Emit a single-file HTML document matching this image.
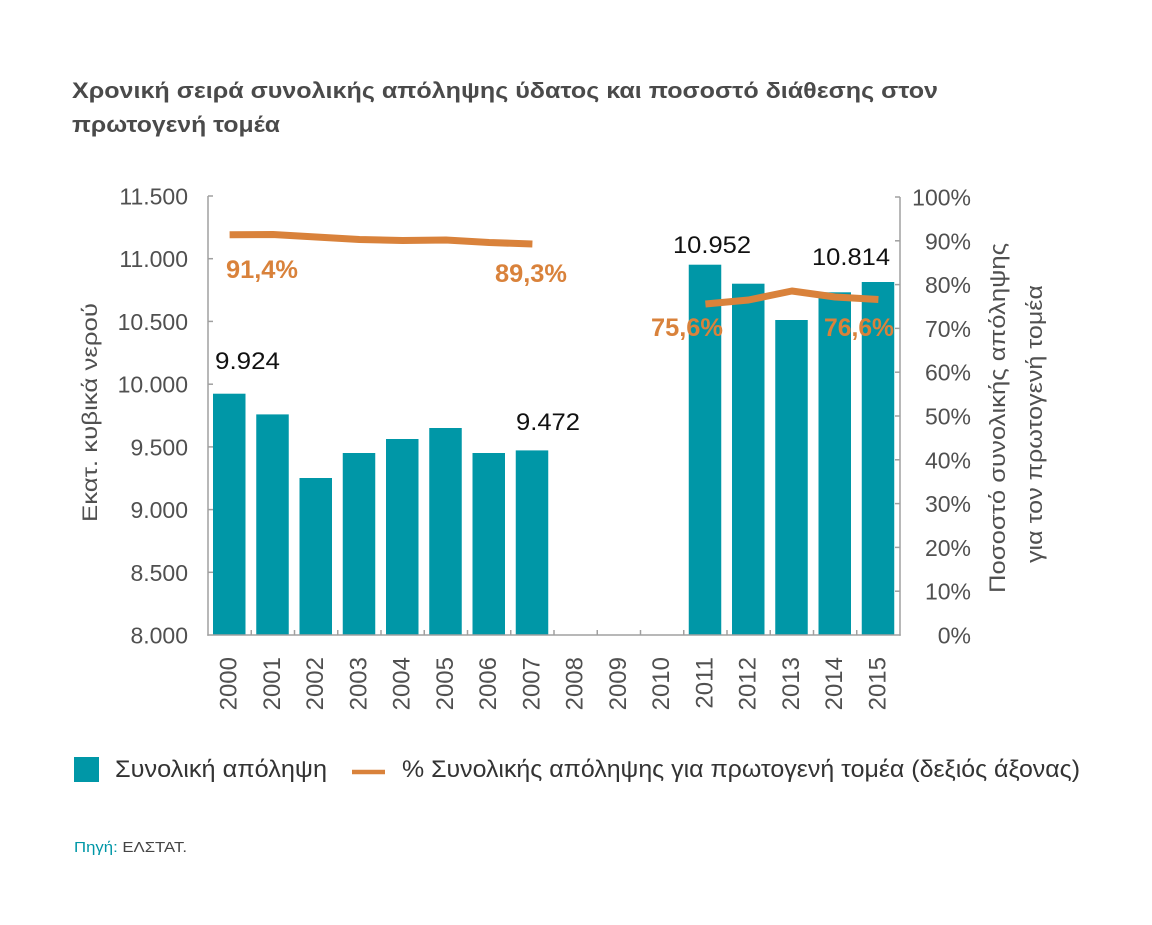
<!DOCTYPE html>
<html>
<head>
<meta charset="utf-8">
<style>
  html, body { margin:0; padding:0; background:#ffffff; }
  svg { display:block; }
  text { font-family: "Liberation Sans", "DejaVu Sans", sans-serif; }
</style>
</head>
<body>
<svg width="1152" height="925" viewBox="0 0 1152 925" xmlns="http://www.w3.org/2000/svg">
  <rect x="0" y="0" width="1152" height="925" fill="#ffffff"/>

  <!-- Title -->
  <text x="72" y="98" font-size="22" font-weight="bold" fill="#4a4a4a" textLength="866" lengthAdjust="spacingAndGlyphs">Χρονική σειρά συνολικής απόληψης ύδατος και ποσοστό διάθεσης στον</text>
  <text x="72" y="132" font-size="22" font-weight="bold" fill="#4a4a4a" textLength="208" lengthAdjust="spacingAndGlyphs">πρωτογενή τομέα</text>

  <!-- Bars -->
  <g fill="#0097a7">
    <rect x="213" y="393.7" width="32.5" height="241.3"/>
    <rect x="256.25" y="414.4" width="32.5" height="220.6"/>
    <rect x="299.5" y="478" width="32.5" height="157"/>
    <rect x="342.75" y="453" width="32.5" height="182"/>
    <rect x="386" y="439" width="32.5" height="196"/>
    <rect x="429.25" y="428" width="32.5" height="207"/>
    <rect x="472.5" y="453" width="32.5" height="182"/>
    <rect x="515.75" y="450.4" width="32.5" height="184.6"/>
    <rect x="688.75" y="264.7" width="32.5" height="370.3"/>
    <rect x="732" y="283.7" width="32.5" height="351.3"/>
    <rect x="775.25" y="320" width="32.5" height="315"/>
    <rect x="818.5" y="292.3" width="32.5" height="342.7"/>
    <rect x="861.75" y="282" width="32.5" height="353"/>
  </g>

  <!-- Axes -->
  <g stroke="#a0a0a0" stroke-width="1.5" fill="none">
    <line x1="208" y1="196" x2="208" y2="635.7"/>
    <line x1="900" y1="197" x2="900" y2="635.7"/>
    <line x1="207.3" y1="635" x2="900.7" y2="635"/>
    <!-- left ticks -->
    <line x1="208" y1="196" x2="213" y2="196"/>
    <line x1="208" y1="258.7" x2="213" y2="258.7"/>
    <line x1="208" y1="321.4" x2="213" y2="321.4"/>
    <line x1="208" y1="384.2" x2="213" y2="384.2"/>
    <line x1="208" y1="446.9" x2="213" y2="446.9"/>
    <line x1="208" y1="509.6" x2="213" y2="509.6"/>
    <line x1="208" y1="572.3" x2="213" y2="572.3"/>
    <!-- right ticks -->
    <line x1="895" y1="197" x2="900" y2="197"/>
    <line x1="895" y1="240.8" x2="900" y2="240.8"/>
    <line x1="895" y1="284.6" x2="900" y2="284.6"/>
    <line x1="895" y1="328.4" x2="900" y2="328.4"/>
    <line x1="895" y1="372.2" x2="900" y2="372.2"/>
    <line x1="895" y1="416" x2="900" y2="416"/>
    <line x1="895" y1="459.8" x2="900" y2="459.8"/>
    <line x1="895" y1="503.6" x2="900" y2="503.6"/>
    <line x1="895" y1="547.4" x2="900" y2="547.4"/>
    <line x1="895" y1="591.2" x2="900" y2="591.2"/>
    <!-- x ticks -->
    <line x1="251.25" y1="630" x2="251.25" y2="635"/>
    <line x1="294.5" y1="630" x2="294.5" y2="635"/>
    <line x1="337.75" y1="630" x2="337.75" y2="635"/>
    <line x1="381" y1="630" x2="381" y2="635"/>
    <line x1="424.25" y1="630" x2="424.25" y2="635"/>
    <line x1="467.5" y1="630" x2="467.5" y2="635"/>
    <line x1="510.75" y1="630" x2="510.75" y2="635"/>
    <line x1="554" y1="630" x2="554" y2="635"/>
    <line x1="597.25" y1="630" x2="597.25" y2="635"/>
    <line x1="640.5" y1="630" x2="640.5" y2="635"/>
    <line x1="683.75" y1="630" x2="683.75" y2="635"/>
    <line x1="727" y1="630" x2="727" y2="635"/>
    <line x1="770.25" y1="630" x2="770.25" y2="635"/>
    <line x1="813.5" y1="630" x2="813.5" y2="635"/>
    <line x1="856.75" y1="630" x2="856.75" y2="635"/>
  </g>

  <!-- Left tick labels -->
  <g font-size="23" fill="#505050" text-anchor="end">
    <text x="188" y="204.5">11.500</text>
    <text x="188" y="267.2">11.000</text>
    <text x="188" y="329.9">10.500</text>
    <text x="188" y="392.7">10.000</text>
    <text x="188" y="455.4">9.500</text>
    <text x="188" y="518.1">9.000</text>
    <text x="188" y="580.8">8.500</text>
    <text x="188" y="643.5">8.000</text>
  </g>

  <!-- Right tick labels -->
  <g font-size="23" fill="#505050" text-anchor="end">
    <text x="971" y="205.5">100%</text>
    <text x="971" y="249.3">90%</text>
    <text x="971" y="293.1">80%</text>
    <text x="971" y="336.9">70%</text>
    <text x="971" y="380.7">60%</text>
    <text x="971" y="424.5">50%</text>
    <text x="971" y="468.3">40%</text>
    <text x="971" y="512.1">30%</text>
    <text x="971" y="555.9">20%</text>
    <text x="971" y="599.7">10%</text>
    <text x="971" y="643.5">0%</text>
  </g>

  <!-- Year labels -->
  <g font-size="24" fill="#505050" text-anchor="end">
    <text transform="translate(236.6,657) rotate(-90)">2000</text>
    <text transform="translate(279.9,657) rotate(-90)">2001</text>
    <text transform="translate(323.1,657) rotate(-90)">2002</text>
    <text transform="translate(366.4,657) rotate(-90)">2003</text>
    <text transform="translate(409.6,657) rotate(-90)">2004</text>
    <text transform="translate(452.9,657) rotate(-90)">2005</text>
    <text transform="translate(496.1,657) rotate(-90)">2006</text>
    <text transform="translate(539.4,657) rotate(-90)">2007</text>
    <text transform="translate(582.6,657) rotate(-90)">2008</text>
    <text transform="translate(625.9,657) rotate(-90)">2009</text>
    <text transform="translate(669.1,657) rotate(-90)">2010</text>
    <text transform="translate(712.4,657) rotate(-90)">2011</text>
    <text transform="translate(755.6,657) rotate(-90)">2012</text>
    <text transform="translate(798.9,657) rotate(-90)">2013</text>
    <text transform="translate(842.1,657) rotate(-90)">2014</text>
    <text transform="translate(885.4,657) rotate(-90)">2015</text>
  </g>

  <!-- Axis titles -->
  <text transform="translate(97,412.5) rotate(-90)" font-size="21" fill="#505050" text-anchor="middle" textLength="219" lengthAdjust="spacingAndGlyphs">Εκατ. κυβικά νερού</text>
  <text transform="translate(1005,418) rotate(-90)" font-size="22" fill="#505050" text-anchor="middle" textLength="350" lengthAdjust="spacingAndGlyphs">Ποσοστό συνολικής απόληψης</text>
  <text transform="translate(1042,424) rotate(-90)" font-size="22" fill="#505050" text-anchor="middle" textLength="278" lengthAdjust="spacingAndGlyphs">για τον πρωτογενή τομέα</text>

  <!-- Lines -->
  <g stroke="#d9823b" stroke-width="7" fill="none" stroke-linejoin="round">
    <polyline points="229.6,234.7 272.9,234.5 316.1,237 359.4,239.5 402.6,240.5 445.9,240 489.1,242.5 532.4,244"/>
    <polyline points="705.4,304 748.6,300 791.9,291 835.1,297 878.4,299.5"/>
  </g>

  <!-- Data labels -->
  <g font-size="24" fill="#111111">
    <text x="215" y="369" textLength="65" lengthAdjust="spacingAndGlyphs">9.924</text>
    <text x="516" y="430" textLength="64" lengthAdjust="spacingAndGlyphs">9.472</text>
    <text x="673" y="253" textLength="78" lengthAdjust="spacingAndGlyphs">10.952</text>
    <text x="812" y="265" textLength="78" lengthAdjust="spacingAndGlyphs">10.814</text>
  </g>
  <g font-size="25" font-weight="bold" fill="#d9823b">
    <text x="226" y="278" textLength="72" lengthAdjust="spacingAndGlyphs">91,4%</text>
    <text x="495" y="282" textLength="72" lengthAdjust="spacingAndGlyphs">89,3%</text>
    <text x="651" y="336" textLength="72" lengthAdjust="spacingAndGlyphs">75,6%</text>
    <text x="824" y="336" textLength="70" lengthAdjust="spacingAndGlyphs">76,6%</text>
  </g>

  <!-- Legend -->
  <rect x="74" y="757" width="25" height="25" fill="#0097a7"/>
  <text x="115" y="777" font-size="24" fill="#333333" textLength="212" lengthAdjust="spacingAndGlyphs">Συνολική απόληψη</text>
  <line x1="352" y1="772" x2="385" y2="772" stroke="#d9823b" stroke-width="4.5"/>
  <text x="402" y="777" font-size="24" fill="#333333" textLength="678" lengthAdjust="spacingAndGlyphs">% Συνολικής απόληψης για πρωτογενή τομέα (δεξιός άξονας)</text>

  <!-- Source -->
  <text x="74" y="852" font-size="15" textLength="113" lengthAdjust="spacingAndGlyphs"><tspan fill="#0097a7">Πηγή:</tspan><tspan fill="#444444"> ΕΛΣΤΑΤ.</tspan></text>
</svg>
</body>
</html>
